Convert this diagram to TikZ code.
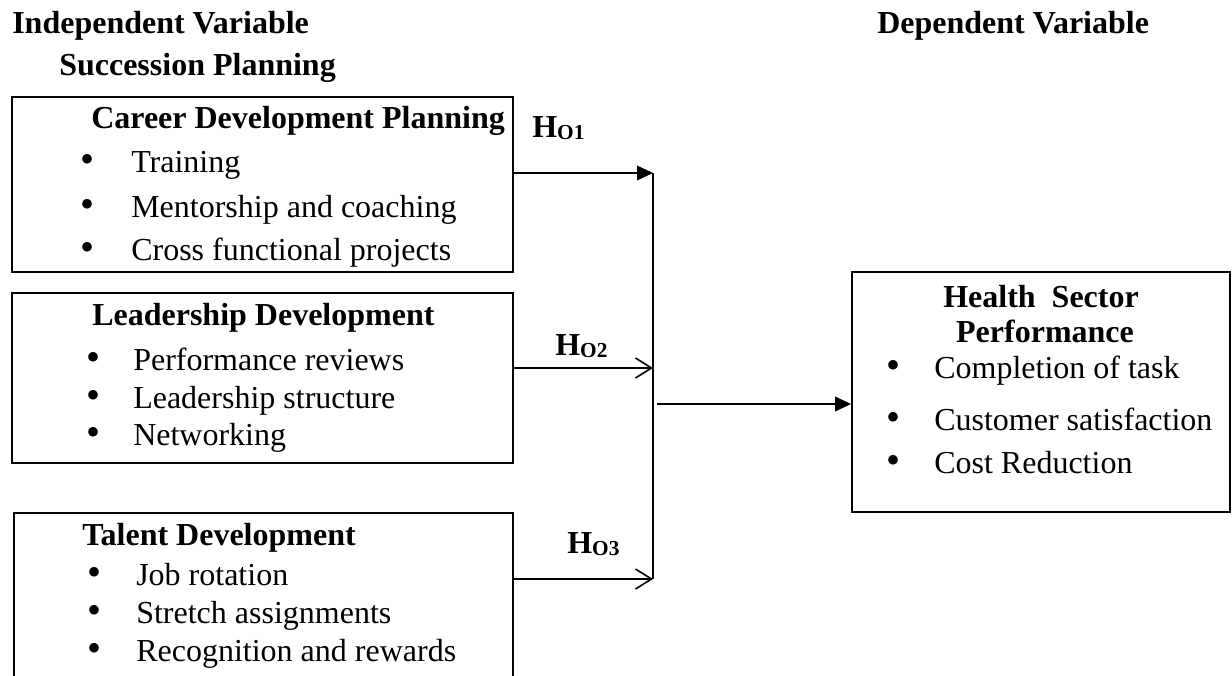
\documentclass[tikz,border=0pt]{standalone}
\usepackage{fontspec}
\setmainfont{Liberation Serif}
\usetikzlibrary{arrows.meta, fit}

\newcommand{\hypo}[1]{H\raisebox{-1.5pt}{\fontsize{16}{16}\selectfont O#1}}

\begin{document}
\begin{tikzpicture}[
    x=0.75pt, y=-0.75pt,
    every node/.style={inner sep=0pt, anchor=base west, font=\fontsize{24}{28}\selectfont},
    heading/.style={font=\fontsize{24}{28}\selectfont\bfseries},
    dot/.style={anchor=base, font=\fontsize{30}{30}\selectfont},
    varbox/.style={draw, line width=1.4pt, inner sep=0pt},
    link/.style={line width=1.2pt},
    >={Triangle[length=12pt, width=11pt]},
]
\useasboundingbox (0,0) rectangle (1232,675);

% === Headings ===
\node[heading] (indep) at (12,33) {Independent Variable};
\node[heading] (succ) at (59,75) {Succession Planning};
\node[heading] (dep) at (877,33) {Dependent Variable};

% === Career development planning ===
\node[varbox, fit={(12,97) (513,272)}] (cdp) {};
\node[heading] (cdpT) at (91,128) {Career Development Planning};
\node[dot] (cdpB1) at (88,172) {•};
\node (cdp1) at (131,172) {Training};
\node[dot] (cdpB2) at (88,217) {•};
\node (cdp2) at (131,217) {Mentorship and coaching};
\node[dot] (cdpB3) at (88,260) {•};
\node (cdp3) at (131,260) {Cross functional projects};

% === Leadership development ===
\node[varbox, fit={(12,293) (513,463)}] (ld) {};
\node[heading] (ldT) at (92,325) {Leadership Development};
\node[dot] (ldB1) at (94,370) {•};
\node (ld1) at (133,370) {Performance reviews};
\node[dot] (ldB2) at (94,408) {•};
\node (ld2) at (133,408) {Leadership structure};
\node[dot] (ldB3) at (94,445) {•};
\node (ld3) at (133,445) {Networking};

% === Talent development (runs past the bottom) ===
\node[varbox, fit={(14,513) (513,700)}] (td) {};
\node[heading] (tdT) at (82,545) {Talent Development};
\node[dot] (tdB1) at (95,585) {•};
\node (td1) at (136,585) {Job rotation};
\node[dot] (tdB2) at (95,623) {•};
\node (td2) at (136,623) {Stretch assignments};
\node[dot] (tdB3) at (95,661) {•};
\node (td3) at (136,661) {Recognition and rewards};

% === Health sector performance ===
\node[varbox, fit={(852,272) (1230,512)}] (hsp) {};
\node[heading, anchor=base] (hspT1) at (1041,307) {Health\ \ Sector};
\node[heading, anchor=base] (hspT2) at (1045,342) {Performance};
\node[dot] (hspB1) at (893,378) {•};
\node (hsp1) at (934,378) {Completion of task};
\node[dot] (hspB2) at (893,430) {•};
\node (hsp2) at (934,430) {Customer satisfaction};
\node[dot] (hspB3) at (893,473) {•};
\node (hsp3) at (934,473) {Cost Reduction};

% === Hypotheses ===
\node[heading] (h1) at (532,137) {\hypo{1}};
\node[heading] (h2) at (555,355) {\hypo{2}};
\node[heading] (h3) at (567,553) {\hypo{3}};

% === Connectors ===
\coordinate (j1) at (653,173);
\coordinate (j2) at (653,368);
\coordinate (j3) at (653,579);
\coordinate (jm) at (657,404);
\draw[link] (j1) -- (j3);
\draw[link, ->] (cdp.east |- j1) -- (j1);
\draw[link, -{Straight Barb[length=12pt, width=15pt]}] (ld.east |- j2) -- (j2);
\draw[link, -{Straight Barb[length=12pt, width=15pt]}] (td.east |- j3) -- (j3);
\draw[link, ->] (jm) -- (hsp.west |- jm);

\end{tikzpicture}
\end{document}
